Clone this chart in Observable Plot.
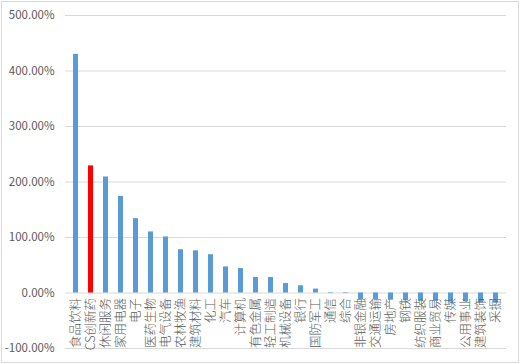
<!DOCTYPE html>
<html>
<head>
<meta charset="utf-8">
<script src="https://cdn.jsdelivr.net/npm/d3@7"></script>
<script src="https://cdn.jsdelivr.net/npm/@observablehq/plot@0.6"></script>
<style>
  html, body { margin: 0; padding: 0; background: #fff; }
  #chart svg { display: block; outline: 1px solid #d9d9d9; outline-offset: -2px; }
</style>
</head>
<body>
<div id="chart"></div>
<script>
const categories = ["食品饮料","CS创新药","休闲服务","家用电器","电子","医药生物","电气设备","农林牧渔","建筑材料","化工","汽车","计算机","有色金属","轻工制造","机械设备","银行","国防军工","通信","综合","非银金融","交通运输","房地产","钢铁","纺织服装","商业贸易","传媒","公用事业","建筑装饰","采掘"];
const values = [430, 229, 209, 174, 134, 110, 101, 78, 76, 69, 47, 44, 28, 28, 17, 13, 7, -1, -1, -12, -12, -13, -14, -15, -15, -16, -16, -17, -18];
const highlight = "CS创新药";
const yTicks = [-100, 0, 100, 200, 300, 400, 500];

const data = categories.map((c, i) => ({category: c, value: values[i]}));
const font = "'Noto Sans CJK SC', 'Liberation Sans', sans-serif";

const chart = Plot.plot({
  width: 520,
  height: 364,
  marginLeft: 65,
  marginRight: 14,
  marginTop: 15,
  marginBottom: 16,
  style: {fontFamily: font, background: "#fff"},
  x: {domain: categories, paddingInner: 0.66, paddingOuter: 0, align: 0.5, axis: null},
  y: {domain: [-100, 500], ticks: yTicks, label: null, axis: null},
  marks: [
    Plot.ruleY(yTicks, {stroke: "#d9d9d9", strokeWidth: 1}),
    Plot.axisY({ticks: yTicks, tickFormat: d => d.toFixed(2) + "%", tickSize: 0, tickPadding: 11, fontSize: 11.5, color: "#595959", label: null}),
    Plot.barY(data, {x: "category", y: "value", fill: d => d.category === highlight ? "#ff0000" : "#5b9bd5"}),
    Plot.text(data, {x: "category", y: () => 0, text: "category", rotate: -90, textAnchor: "end", lineAnchor: "middle", dy: 5, fontSize: 12.5, fontWeight: 300, fill: "#595959"})
  ]
});
document.getElementById("chart").append(chart);
</script>
</body>
</html>
